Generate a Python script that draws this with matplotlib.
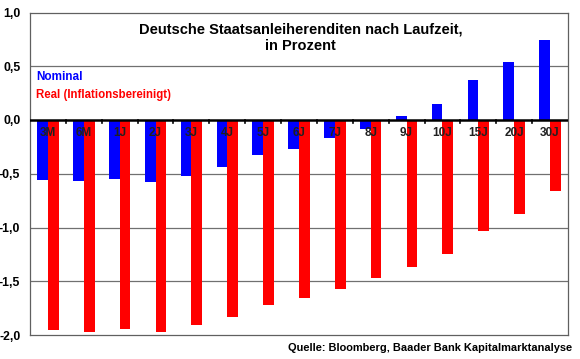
import numpy as np
import matplotlib.pyplot as plt

plt.rcParams['font.family'] = ['Liberation Sans', 'DejaVu Sans']

categories = ['3M', '6M', '1J', '2J', '3J', '4J', '5J', '6J', '7J', '8J',
              '9J', '10J', '15J', '20J', '30J']
nominal = [-0.56, -0.57, -0.55, -0.58, -0.52, -0.44, -0.33, -0.27, -0.17,
           -0.08, 0.04, 0.15, 0.37, 0.54, 0.74]
real = [-1.95, -1.97, -1.94, -1.97, -1.91, -1.83, -1.72, -1.66, -1.57,
        -1.47, -1.37, -1.25, -1.03, -0.87, -0.66]
yticks = [1.0, 0.5, 0.0, -0.5, -1.0, -1.5, -2.0]
ytick_labels = ['1,0', '0,5', '0,0', '-0,5', '-1,0', '-1,5', '-2,0']

fig = plt.figure(figsize=(5.8, 3.59), dpi=100)
ax = fig.add_axes([30 / 580, 1 - 335 / 359, 538 / 580, 322.5 / 359])

x = np.arange(len(categories))
w = 0.3
ax.bar(x - w / 2, nominal, width=w, color='#0000ff', zorder=2)
ax.bar(x + w / 2, real, width=w, color='#ff0000', zorder=2)

ax.set_xlim(-0.5, len(categories) - 0.5)
ax.set_ylim(-2.0, 1.0)
ax.set_yticks(yticks)
ax.set_yticklabels(ytick_labels, fontweight='bold', fontsize=8.8)
ax.tick_params(axis='y', length=0, pad=7)
ax.set_xticks([])

for yv in [0.5, -0.5, -1.0, -1.5]:
    ax.axhline(yv, color='#707070', lw=0.9, zorder=1)
ax.axhline(0, color='black', lw=1.8, zorder=3)

# small ticks on the zero line between categories
for b in np.arange(0.5, len(categories) - 0.5, 1.0):
    ax.plot([b, b], [0, -0.03], color='black', lw=1.2, zorder=3)

for xi, lab in zip(x, categories):
    ax.text(xi, -0.065, lab, ha='center', va='top', fontsize=8.5,
            fontweight='bold', color='#202020', zorder=4)

for s in ax.spines.values():
    s.set_color('#606060')
    s.set_linewidth(0.9)

ax.text(0.503, 0.97, 'Deutsche Staatsanleiherenditen nach Laufzeit,\nin Prozent',
        transform=ax.transAxes, ha='center', va='top', fontsize=10.5,
        fontweight='bold', linespacing=1.25)
ax.text(0.011, 0.80, 'Nominal', transform=ax.transAxes, ha='left', va='center',
        fontsize=8.5, fontweight='bold', color='#0000ff')
ax.text(0.011, 0.744, 'Real (Inflationsbereinigt)', transform=ax.transAxes,
        ha='left', va='center', fontsize=8.3, fontweight='bold', color='#ff0000')

fig.text(572 / 580, 1 - 348 / 359, 'Quelle: Bloomberg, Baader Bank Kapitalmarktanalyse',
         ha='right', va='center', fontsize=7.9, fontweight='bold')

fig.savefig('out.png', dpi=100)
